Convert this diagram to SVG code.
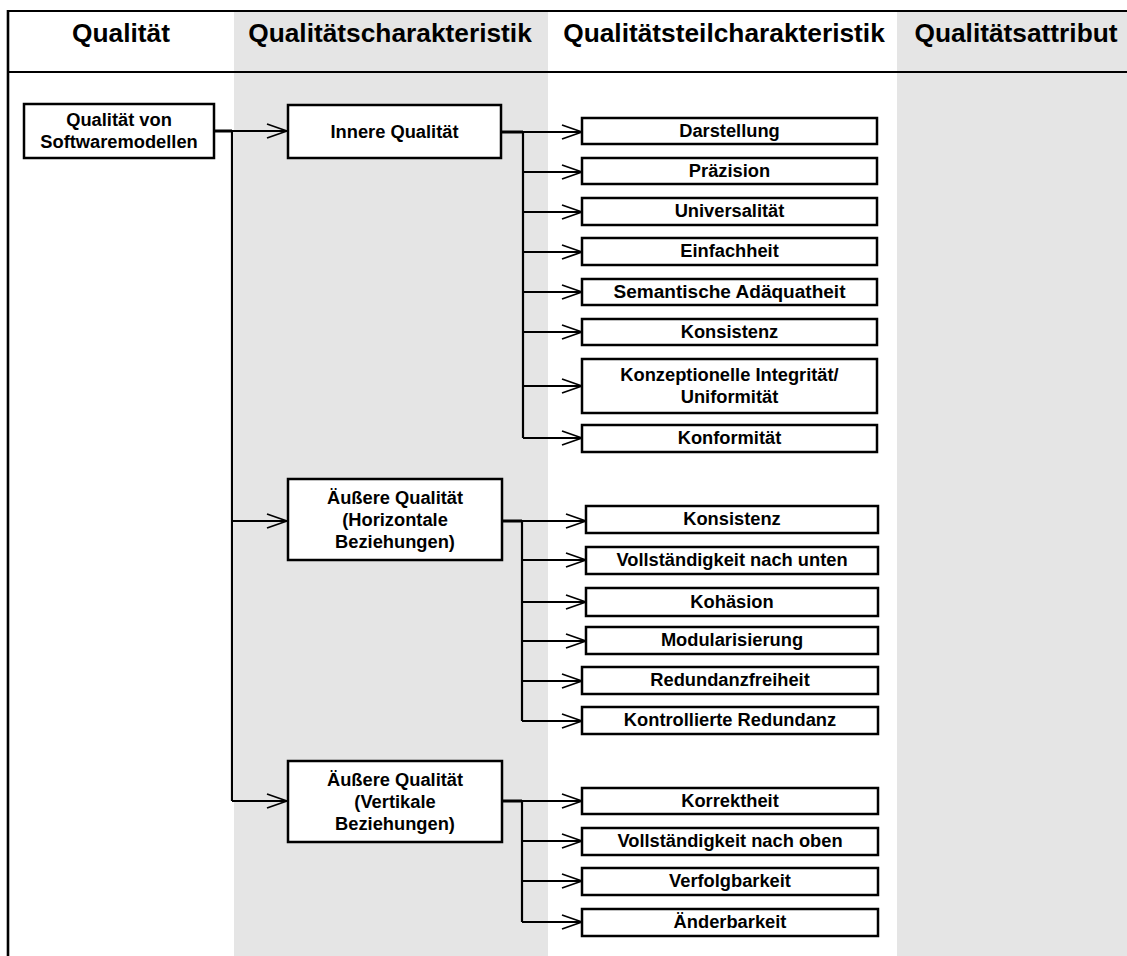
<svg xmlns="http://www.w3.org/2000/svg" width="1127" height="956" viewBox="0 0 1127 956">
  <defs>
    <style>
      .band { fill: #e5e5e5; }
      .rule { stroke: #000; stroke-width: 2.2; fill: none; }
      .head { font-family: "Liberation Sans", Arial, sans-serif; font-weight: bold; font-size: 26.3px; text-anchor: middle; fill: #000; }
      .box { fill: #fff; stroke: #000; stroke-width: 2.5; }
      .lbl { font-family: "Liberation Sans", Arial, sans-serif; font-weight: bold; font-size: 18.3px; text-anchor: middle; fill: #000; }
      .stub { stroke: #000; stroke-width: 3; fill: none; }
      .trunk { stroke: #000; stroke-width: 2.2; fill: none; }
      .arrow { stroke: #000; stroke-width: 1.8; fill: none; marker-end: url(#open); }
    </style>
    <marker id="open" viewBox="0 0 22 16" refX="21" refY="8" markerWidth="22" markerHeight="16" markerUnits="userSpaceOnUse" orient="auto">
      <path d="M1,1 L21,8 L1,15" fill="none" stroke="#000" stroke-width="1.8"/>
    </marker>
  </defs>

  <!-- background and column bands -->
  <rect x="0" y="0" width="1127" height="956" fill="#fff"/>
  <rect class="band" x="234" y="12" width="314" height="944"/>
  <rect class="band" x="897" y="12" width="230" height="944"/>

  <!-- table frame -->
  <g id="frame">
    <line class="rule" x1="7" y1="11" x2="1127" y2="11"/>
    <line class="rule" x1="8" y1="72" x2="1127" y2="72"/>
    <line x1="8" y1="10" x2="8" y2="956" stroke="#000" stroke-width="2.6"/>
  </g>

  <!-- column headings -->
  <g id="headings">
    <text class="head" x="121" y="42">Qualität</text>
    <text class="head" x="390" y="42">Qualitätscharakteristik</text>
    <text class="head" x="724" y="42">Qualitätsteilcharakteristik</text>
    <text class="head" x="1016" y="42">Qualitätsattribut</text>
  </g>

  <!-- connectors -->
  <g id="connectors">
    <!-- root to characteristics -->
    <line class="stub" x1="214" y1="131" x2="232" y2="131"/>
    <line class="trunk" x1="232" y1="131" x2="232" y2="801"/>
    <line class="arrow" x1="232" y1="131" x2="287" y2="131"/>
    <line class="arrow" x1="232" y1="521" x2="287" y2="521"/>
    <line class="arrow" x1="232" y1="801" x2="287" y2="801"/>

    <!-- Innere Qualität branch -->
    <line class="stub" x1="501" y1="132" x2="523" y2="132"/>
    <line class="trunk" x1="523" y1="132" x2="523" y2="438"/>
    <line class="arrow" x1="523" y1="132" x2="582" y2="132"/>
    <line class="arrow" x1="523" y1="172" x2="582" y2="172"/>
    <line class="arrow" x1="523" y1="212" x2="582" y2="212"/>
    <line class="arrow" x1="523" y1="252" x2="582" y2="252"/>
    <line class="arrow" x1="523" y1="292" x2="582" y2="292"/>
    <line class="arrow" x1="523" y1="332" x2="582" y2="332"/>
    <line class="arrow" x1="523" y1="386" x2="582" y2="386"/>
    <line class="arrow" x1="523" y1="438" x2="582" y2="438"/>

    <!-- Äußere Qualität (horizontal) branch -->
    <line class="stub" x1="502" y1="521" x2="522" y2="521"/>
    <line class="trunk" x1="522" y1="521" x2="522" y2="721"/>
    <line class="arrow" x1="522" y1="521" x2="586" y2="521"/>
    <line class="arrow" x1="522" y1="560" x2="586" y2="560"/>
    <line class="arrow" x1="522" y1="602" x2="586" y2="602"/>
    <line class="arrow" x1="522" y1="641" x2="586" y2="641"/>
    <line class="arrow" x1="522" y1="681" x2="582" y2="681"/>
    <line class="arrow" x1="522" y1="721" x2="582" y2="721"/>

    <!-- Äußere Qualität (vertical) branch -->
    <line class="stub" x1="502" y1="801" x2="522" y2="801"/>
    <line class="trunk" x1="522" y1="801" x2="522" y2="922"/>
    <line class="arrow" x1="522" y1="801" x2="582" y2="801"/>
    <line class="arrow" x1="522" y1="841" x2="582" y2="841"/>
    <line class="arrow" x1="522" y1="881" x2="582" y2="881"/>
    <line class="arrow" x1="522" y1="922" x2="582" y2="922"/>
  </g>

  <!-- quality -->
  <g id="n-root">
    <rect class="box" x="24" y="104" width="190" height="54"/>
    <text class="lbl" x="119" y="126">Qualität von</text>
    <text class="lbl" x="119" y="148">Softwaremodellen</text>
  </g>

  <!-- characteristics -->
  <g id="n-innere">
    <rect class="box" x="288" y="105" width="213" height="53"/>
    <text class="lbl" x="394.5" y="138">Innere Qualität</text>
  </g>
  <g id="n-horizontal">
    <rect class="box" x="288" y="479" width="214" height="81"/>
    <text class="lbl" x="395" y="504">Äußere Qualität</text>
    <text class="lbl" x="395" y="526">(Horizontale</text>
    <text class="lbl" x="395" y="548">Beziehungen)</text>
  </g>
  <g id="n-vertikal">
    <rect class="box" x="288" y="761" width="214" height="81"/>
    <text class="lbl" x="395" y="786">Äußere Qualität</text>
    <text class="lbl" x="395" y="808">(Vertikale</text>
    <text class="lbl" x="395" y="830">Beziehungen)</text>
  </g>

  <!-- sub-characteristics: Innere Qualität -->
  <g id="n-darstellung">
    <rect class="box" x="582" y="118" width="295" height="26"/>
    <text class="lbl" x="729.5" y="137">Darstellung</text>
  </g>
  <g id="n-praezision">
    <rect class="box" x="582" y="158" width="295" height="26"/>
    <text class="lbl" x="729.5" y="177">Präzision</text>
  </g>
  <g id="n-universalitaet">
    <rect class="box" x="582" y="198" width="295" height="27"/>
    <text class="lbl" x="729.5" y="217">Universalität</text>
  </g>
  <g id="n-einfachheit">
    <rect class="box" x="582" y="238" width="295" height="27"/>
    <text class="lbl" x="729.5" y="257">Einfachheit</text>
  </g>
  <g id="n-semantik">
    <rect class="box" x="582" y="279" width="295" height="26"/>
    <text class="lbl" x="729.5" y="298" textLength="232" lengthAdjust="spacingAndGlyphs">Semantische Adäquatheit</text>
  </g>
  <g id="n-konsistenz-i">
    <rect class="box" x="582" y="319" width="295" height="26"/>
    <text class="lbl" x="729.5" y="338">Konsistenz</text>
  </g>
  <g id="n-integritaet">
    <rect class="box" x="582" y="359" width="295" height="54"/>
    <text class="lbl" x="729.5" y="381">Konzeptionelle Integrität/</text>
    <text class="lbl" x="729.5" y="403">Uniformität</text>
  </g>
  <g id="n-konformitaet">
    <rect class="box" x="582" y="425" width="295" height="27"/>
    <text class="lbl" x="729.5" y="444">Konformität</text>
  </g>

  <!-- sub-characteristics: horizontal relations -->
  <g id="n-konsistenz-h">
    <rect class="box" x="586" y="506" width="292" height="27"/>
    <text class="lbl" x="732" y="525">Konsistenz</text>
  </g>
  <g id="n-vollst-unten">
    <rect class="box" x="586" y="547" width="292" height="27"/>
    <text class="lbl" x="732" y="566">Vollständigkeit nach unten</text>
  </g>
  <g id="n-kohaesion">
    <rect class="box" x="586" y="588" width="292" height="28"/>
    <text class="lbl" x="732" y="608">Kohäsion</text>
  </g>
  <g id="n-modularisierung">
    <rect class="box" x="586" y="627" width="292" height="27"/>
    <text class="lbl" x="732" y="646">Modularisierung</text>
  </g>
  <g id="n-redundanzfrei">
    <rect class="box" x="582" y="667" width="296" height="27"/>
    <text class="lbl" x="730" y="686">Redundanzfreiheit</text>
  </g>
  <g id="n-kontr-redundanz">
    <rect class="box" x="582" y="707" width="296" height="27"/>
    <text class="lbl" x="730" y="726">Kontrollierte Redundanz</text>
  </g>

  <!-- sub-characteristics: vertical relations -->
  <g id="n-korrektheit">
    <rect class="box" x="582" y="788" width="296" height="26"/>
    <text class="lbl" x="730" y="807">Korrektheit</text>
  </g>
  <g id="n-vollst-oben">
    <rect class="box" x="582" y="828" width="296" height="27"/>
    <text class="lbl" x="730" y="847">Vollständigkeit nach oben</text>
  </g>
  <g id="n-verfolgbarkeit">
    <rect class="box" x="582" y="868" width="296" height="27"/>
    <text class="lbl" x="730" y="887">Verfolgbarkeit</text>
  </g>
  <g id="n-aenderbarkeit">
    <rect class="box" x="582" y="909" width="296" height="27"/>
    <text class="lbl" x="730" y="928">Änderbarkeit</text>
  </g>
</svg>
